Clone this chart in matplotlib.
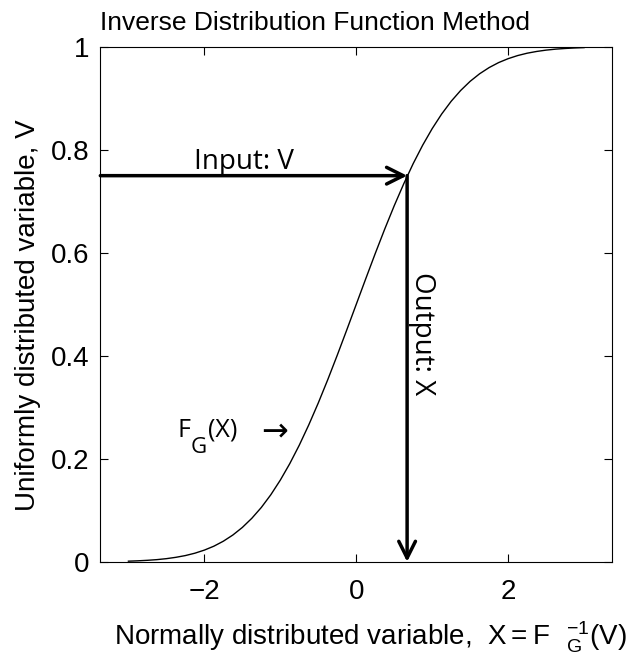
import matplotlib.pyplot as plt

plt.rcParams['font.family'] = ['Liberation Sans', 'DejaVu Sans']
plt.rcParams['mathtext.fontset'] = 'custom'
plt.rcParams['mathtext.rm'] = 'Open Sans'
plt.rcParams['mathtext.it'] = 'Open Sans'

# curve (Gaussian CDF)
x_vals = [-3.0, -2.875, -2.75, -2.625, -2.5, -2.375, -2.25, -2.125, -2.0, -1.875,
          -1.75, -1.625, -1.5, -1.375, -1.25, -1.125, -1.0, -0.875, -0.75, -0.625,
          -0.5, -0.375, -0.25, -0.125, 0.0, 0.125, 0.25, 0.375, 0.5, 0.625,
          0.75, 0.875, 1.0, 1.125, 1.25, 1.375, 1.5, 1.625, 1.75, 1.875,
          2.0, 2.125, 2.25, 2.375, 2.5, 2.625, 2.75, 2.875, 3.0]
v_vals = [0.0013, 0.0020, 0.0030, 0.0043, 0.0062, 0.0088, 0.0122, 0.0168, 0.0228, 0.0304,
          0.0401, 0.0521, 0.0668, 0.0846, 0.1056, 0.1303, 0.1587, 0.1908, 0.2266, 0.2660,
          0.3085, 0.3538, 0.4013, 0.4503, 0.5, 0.5497, 0.5987, 0.6462, 0.6915, 0.7340,
          0.7734, 0.8092, 0.8413, 0.8697, 0.8944, 0.9154, 0.9332, 0.9479, 0.9599, 0.9696,
          0.9772, 0.9832, 0.9878, 0.9912, 0.9938, 0.9957, 0.9970, 0.9980, 0.9987]

v_in = 0.75
x_out = 0.67
x_min, x_max = -3.37, 3.37

fig = plt.figure(figsize=(6.35, 6.61), dpi=100)
ax = fig.add_axes([0.158, 0.150, 0.806, 0.779])

ax.plot(x_vals, v_vals, color='black', lw=1.0)

# input arrow (horizontal) and output arrow (vertical)
ax.annotate('', xy=(x_out, v_in), xytext=(x_min, v_in),
            arrowprops=dict(arrowstyle='->', lw=2.5, color='black',
                            mutation_scale=30, shrinkA=0, shrinkB=0))
ax.annotate('', xy=(x_out, 0.0), xytext=(x_out, v_in),
            arrowprops=dict(arrowstyle='->', lw=2.5, color='black',
                            mutation_scale=30, shrinkA=0, shrinkB=0))

annot_font = ['Open Sans', 'DejaVu Sans']
ax.text(-2.14, 0.763, 'Input: V', fontsize=20, family=annot_font, ha='left', va='baseline')
ax.text(0.685, 0.562, 'Output: X', fontsize=20, family=annot_font, rotation=-90,
        ha='left', va='top')
# F_G(X) ->  label next to the curve
ax.text(-2.36, 0.243, 'F', fontsize=18, family=annot_font, ha='left', va='baseline')
ax.text(-2.18, 0.212, 'G', fontsize=16, family=annot_font, ha='left', va='baseline')
ax.text(-1.95, 0.243, '(X)', fontsize=18, family=annot_font, ha='left', va='baseline')
ax.text(-1.25, 0.252, '\u2192', fontsize=23, family=['DejaVu Sans'], ha='left', va='center')

ax.set_xlim(x_min, x_max)
ax.set_ylim(0, 1)
ax.set_xticks([-2, 0, 2])
ax.set_xticklabels(['\u22122', '0', '2'])
ax.set_yticks([0, 0.2, 0.4, 0.6, 0.8, 1])
ax.set_yticklabels(['0', '0.2', '0.4', '0.6', '0.8', '1'])
ax.tick_params(direction='in', top=True, right=True, length=6, labelsize=20)
ax.tick_params(axis='x', pad=12)
ax.tick_params(axis='y', pad=8)

ax.set_title('Inverse Distribution Function Method', fontsize=19, pad=12, x=0.42)
ax.set_xlabel(r'Normally distributed variable,  $\mathregular{X = F\ \ _G^{-1}(V)}$',
              fontsize=20)
ax.xaxis.set_label_coords(0.527, -0.112)
ax.set_ylabel('Uniformly distributed variable, V', fontsize=20)
ax.yaxis.set_label_coords(-0.115, 0.48)

fig.savefig('out.png', dpi=100)
